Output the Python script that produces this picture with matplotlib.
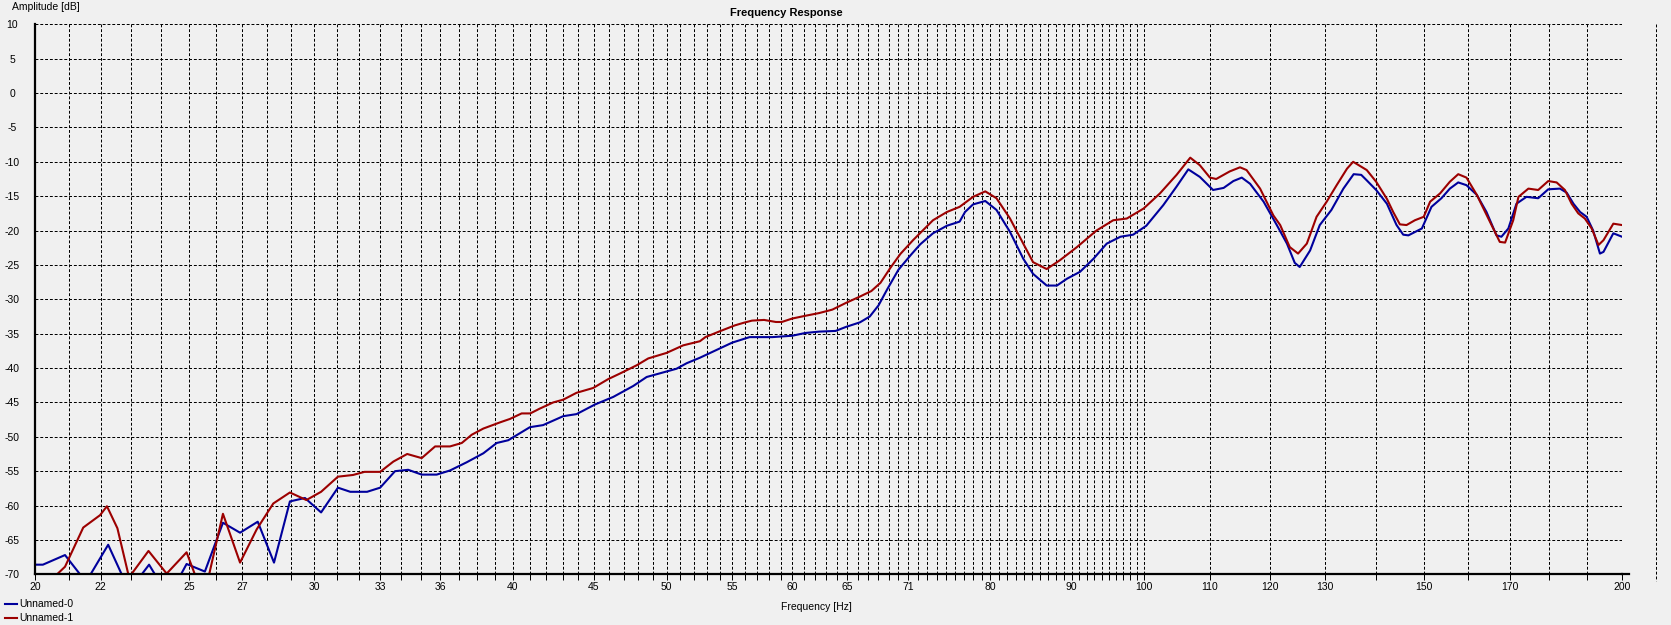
import numpy as np
import matplotlib
matplotlib.use("Agg")
import matplotlib.pyplot as plt
from matplotlib.lines import Line2D

plt.rcParams['font.family'] = ['Liberation Sans', 'DejaVu Sans']
plt.rcParams['axes.unicode_minus'] = False

# frequency response readings (Hz, dB)
freq_0 = [20.0, 20.23, 20.89, 21.35, 21.5, 21.68, 22.24, 22.68, 23.0, 23.35, 23.6, 23.8, 24.2,
          24.72, 24.92, 25.59, 26.27, 26.93, 27.63, 28.29, 28.95, 29.59, 30.29, 31.04, 31.6,
          32.38, 33.0, 33.72, 34.37, 35.05, 35.82, 36.52, 37.42, 38.33, 39.08, 39.74, 40.61,
          41.01, 41.8, 43.04, 43.88, 45.07, 46.28, 47.65, 48.58, 50.0, 50.73, 51.48, 52.48,
          53.5, 55.0, 56.4, 58.3, 60.0, 61.15, 62.4, 63.9, 64.9, 66.2, 67.15, 68.0, 68.85,
          70.0, 71.3, 72.25, 73.6, 75.1, 76.5, 77.1, 78.0, 79.4, 80.7, 82.3, 83.9, 85.1, 86.8,
          88.1, 89.4, 91.1, 92.9, 94.7, 96.6, 98.4, 100.3, 102.8, 104.8, 106.6, 108.4, 110.5,
          112.2, 113.8, 115.2, 116.6, 118.9, 121.2, 123.0, 124.4, 125.3, 127.2, 129.0, 131.2,
          133.5, 135.5, 137.0, 138.1, 140.0, 142.2, 144.2, 145.6, 146.7, 149.6, 151.7, 153.9,
          155.8, 157.7, 159.6, 162.0, 164.3, 166.7, 167.9, 169.6, 171.6, 174.1, 177.1, 179.7,
          182.8, 184.6, 186.4, 188.2, 190.0, 191.8, 193.7, 194.7, 197.5, 200.0]
amp_0 = [-68.6, -68.6, -67.2, -70, -72, -70, -65.7, -70, -72, -70, -68.6, -70, -72,
         -70, -68.5, -69.6, -62.5, -63.95, -62.35, -68.3, -59.4, -58.9, -61.0, -57.4, -58.0,
         -58.0, -57.4, -55.0, -54.8, -55.5, -55.5, -54.9, -53.7, -52.4, -50.9, -50.5, -49.2,
         -48.6, -48.3, -47.0, -46.7, -45.3, -44.2, -42.6, -41.3, -40.5, -40.1, -39.3, -38.5,
         -37.6, -36.3, -35.5, -35.5, -35.3, -34.9, -34.7, -34.6, -34.0, -33.35, -32.5, -30.9, -28.6,
         -25.7, -23.5, -22.0, -20.4, -19.3, -18.7, -17.3, -16.2, -15.7, -17.0, -20.2, -24.1, -26.3, -28.0,
         -28.0, -27.0, -26.0, -24.1, -21.9, -20.9, -20.6, -19.3, -16.3, -13.6, -11.1, -12.2, -14.1,
         -13.8, -12.8, -12.3, -13.2, -15.8, -19.2, -21.9, -24.7, -25.3, -22.9, -19.2, -17.0,
         -13.9, -11.8, -11.9, -12.7, -14.1, -16.1, -19.2, -20.6, -20.7, -19.7, -16.55, -15.3,
         -13.9, -13.0, -13.4, -14.8, -17.3, -20.7, -20.9, -19.7, -16.1, -15.1, -15.3, -14.0,
         -13.9, -14.5, -16.1, -17.3, -18.0, -20.0, -23.35, -23.1, -20.4, -20.9]

freq_1 = [20.0, 20.65, 20.89, 21.45, 21.98, 22.2, 22.54, 22.9, 22.95, 23.0, 23.58, 24.21,
          24.92, 25.22, 25.5, 25.75, 26.27, 26.93, 27.59, 28.26, 28.95, 29.65, 30.29, 31.04,
          31.73, 32.26, 33.0, 33.64, 34.32, 35.05, 35.74, 36.52, 37.15, 37.69, 38.33, 39.27,
          39.84, 40.52, 41.03, 41.6, 42.42, 43.04, 43.88, 44.95, 45.95, 46.73, 47.88, 48.69,
          50.0, 51.22, 52.48, 52.9, 53.95, 55.2, 55.95, 56.6, 57.6, 58.6, 59.1, 60.0, 61.15,
          62.4, 63.6, 64.9, 66.2, 67.3, 68.2, 69.2, 70.2, 71.5, 73.6, 75.1, 76.5, 78.0, 79.4,
          80.7, 82.3, 83.9, 85.1, 86.8, 88.5, 90.7, 93.3, 95.6, 97.5, 99.9, 102.3, 104.8,
          106.9, 108.4, 110.0, 111.0, 113.2, 114.9, 116.0, 118.3, 120.6, 121.8, 123.5, 125.0,
          126.6, 128.4, 130.3, 132.2, 134.2, 135.4, 138.1, 140.0, 142.2, 143.5, 144.9, 146.3,
          148.1, 150.0, 151.4, 153.6, 155.8, 157.7, 159.6, 162.0, 165.1, 167.5, 168.8, 170.8,
          172.1, 174.6, 177.1, 179.7, 181.9, 184.1, 185.9, 187.7, 189.5, 191.4, 193.3, 194.7,
          197.5, 200.0]
amp_1 = [-74, -70, -68.9, -63.2, -61.4, -60.1, -63.3, -70, -71, -70, -66.6, -69.9,
         -66.8, -70, -72, -70, -61.2, -68.3, -63.45, -59.7, -58.1, -59.2, -58.0, -55.8,
         -55.55, -55.1, -55.1, -53.6, -52.5, -53.1, -51.4, -51.4, -50.9, -49.7, -48.8, -47.9,
         -47.4, -46.6, -46.6, -45.9, -45.0, -44.6, -43.6, -42.9, -41.6, -40.8, -39.6, -38.6,
         -37.8, -36.7, -36.1, -35.5, -34.7, -33.8, -33.4, -33.1, -33.0, -33.3, -33.3, -32.8, -32.4,
         -32.0, -31.5, -30.5, -29.6, -28.8, -27.6, -25.4, -23.4, -21.4, -18.5, -17.3, -16.55, -15.1, -14.3,
         -15.3, -18.25, -21.9, -24.6, -25.6, -24.3, -22.4, -20.0, -18.5, -18.25, -16.8, -14.6, -11.9,
         -9.4, -10.5, -12.3, -12.5, -11.4, -10.8, -11.2, -13.9, -17.8, -19.2, -22.4, -23.35,
         -21.9, -18.0, -15.8, -13.4, -11.0, -10.0, -11.2, -12.9, -15.4, -17.3, -19.1, -19.2,
         -18.5, -18.0, -15.8, -14.6, -12.9, -11.8, -12.3, -14.8, -18.7, -21.65, -21.75, -18.5,
         -15.1, -13.9, -14.1, -12.8, -13.0, -14.1, -16.1, -17.5, -18.25, -19.7, -22.1, -21.4,
         -19.0, -19.2]

x_labels = [20, 22, 25, 27, 30, 33, 36, 40, 45, 50, 55, 60, 65, 71, 80, 90, 100,
            110, 120, 130, 150, 170, 200]
grid_freqs = list(range(20, 100)) + list(range(100, 201, 10))
y_ticks = list(range(-70, 11, 5))

W, H = 1671, 625
fig = plt.figure(figsize=(W / 100, H / 100), dpi=100, facecolor='#f0f0f0')
ax = fig.add_axes([35 / W, 1 - 574.3 / H, (1622 - 35) / W, 550 / H])
ax.set_facecolor('#f0f0f0')

ax.set_xscale('log')
ax.set_xlim(20, 200)
ax.set_ylim(-70, 10)

dash = (0, (2.9, 1.9))
ax.plot(freq_0, amp_0, color='#00009c', lw=1.5, zorder=3)
ax.plot(freq_1, amp_1, color='#9c0000', lw=1.5, zorder=3)

ax.set_xticks(x_labels)
ax.set_xticklabels([str(v) for v in x_labels])
ax.set_xticks([f for f in grid_freqs if f not in x_labels], minor=True)
ax.xaxis.set_minor_formatter(plt.NullFormatter())
ax.tick_params(axis='x', which='both', length=4.3, width=0.72, direction='out',
               labelsize=7.5, pad=1.5, color='black')
ax.set_yticks(y_ticks)
ax.set_yticklabels([str(v) for v in y_ticks])
ax.tick_params(axis='y', length=0, pad=16.5, labelsize=7.5)
for lab in ax.get_yticklabels():
    lab.set_horizontalalignment('center')

ax.grid(True, which='both', axis='x', color='black', lw=0.72, linestyle=dash)
ax.grid(True, which='major', axis='y', color='black', lw=0.72, linestyle=dash)
ax.set_axisbelow(True)

# extra grid line past the right end, as in the source program
ax.plot([210, 210], [10, -71], color='black', lw=0.72, linestyle=dash, clip_on=False)
ax.plot([200, 202], [-70, -70], color='black', lw=1.6, clip_on=False, zorder=4)

for s in ['top', 'right']:
    ax.spines[s].set_visible(False)
for s in ['left', 'bottom']:
    ax.spines[s].set_linewidth(1.6)
    ax.spines[s].set_zorder(4)

fig.text(12 / W, 1 - 7 / H, 'Amplitude [dB]', fontsize=7.5, ha='left', va='center')
fig.text(786 / W, 1 - 12.5 / H, 'Frequency Response', fontsize=8, fontweight='bold',
         ha='center', va='center')
fig.text(816 / W, 1 - 607 / H, 'Frequency [Hz]', fontsize=7.5, ha='center', va='center')

# legend
for i, (name, col) in enumerate([('Unnamed-0', '#00009c'), ('Unnamed-1', '#9c0000')]):
    yy = 1 - (604.3 + 13.5 * i) / H
    fig.add_artist(Line2D([5 / W, 16.5 / W], [yy, yy], color=col, lw=1.5))
    fig.text(19.5 / W, yy, name, fontsize=7.5, ha='left', va='center')

fig.savefig('out.png', dpi=100, facecolor=fig.get_facecolor())
